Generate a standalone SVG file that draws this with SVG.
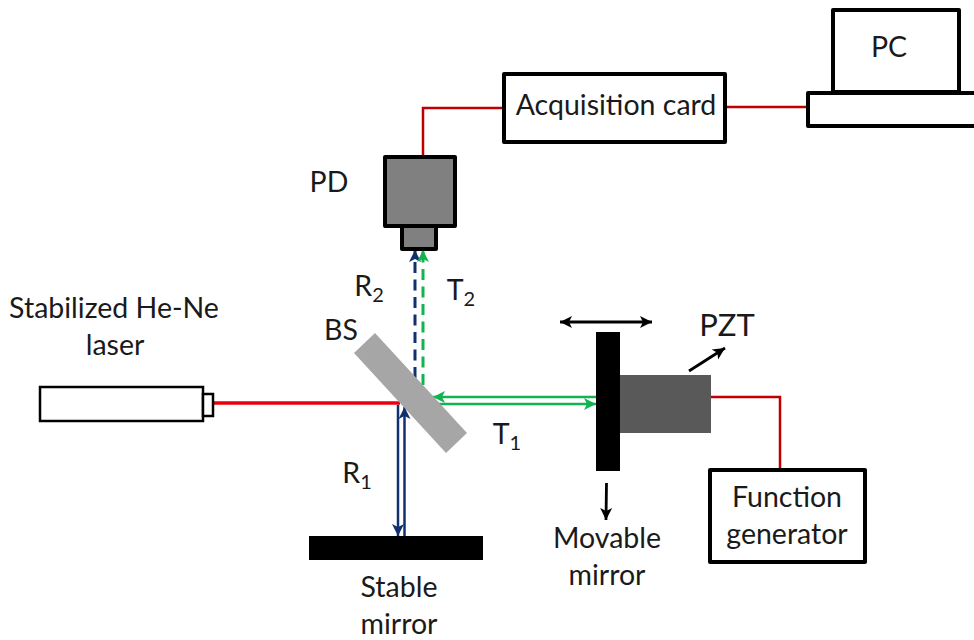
<svg xmlns="http://www.w3.org/2000/svg" width="974" height="640" viewBox="0 0 974 640">
<style>
text{font-family:"Lato","Open Sans","Liberation Sans",sans-serif;font-size:28.500px;fill:#1a1a1a;text-anchor:middle}
.sub{font-size:20px}
.box{fill:#fff;stroke:#000;stroke-width:4;stroke-linejoin:round}
.boxg{fill:#808080;stroke:#000;stroke-width:4;stroke-linejoin:round}
.thin{fill:#fff;stroke:#000;stroke-width:2.500}
.wire{fill:none;stroke:#c00000;stroke-width:2.500}
.beam{fill:none;stroke:#e8000f;stroke-width:3.500}
.blue{fill:none;stroke:#13306e;stroke-width:2.500}
.green{fill:none;stroke:#12b350;stroke-width:2.500}
.bd{stroke-width:3;stroke-dasharray:11 6.500}
.blk{fill:none;stroke:#000;stroke-width:2.800}
</style>
<defs>
<marker id="ab" markerUnits="userSpaceOnUse" markerWidth="14" markerHeight="14" refX="12" refY="7" orient="auto-start-reverse"><path d="M0 1L12 7L0 13L3 7Z" fill="#13306e"/></marker>
<marker id="ag" markerUnits="userSpaceOnUse" markerWidth="14" markerHeight="14" refX="12" refY="7" orient="auto-start-reverse"><path d="M0 1L12 7L0 13L3 7Z" fill="#12b350"/></marker>
<marker id="ak" markerUnits="userSpaceOnUse" markerWidth="14" markerHeight="14" refX="12" refY="7" orient="auto-start-reverse"><path d="M0 1L12 7L0 13L3 7Z" fill="#000"/></marker>
</defs>
<rect width="974" height="640" fill="#fff"/>
<g id="connectors">
<path class="wire" d="M423 156V108H503"/>
<path class="wire" d="M726 107H807"/>
<path class="wire" d="M711 397H780V468"/>
<path class="beam" d="M213 403H400"/>
<path class="blue bd" d="M415 378V250" marker-end="url(#ab)"/>
<path class="green bd" d="M423 385V250" marker-end="url(#ag)"/>
<path class="green" d="M596 397H433" marker-end="url(#ag)"/>
<path class="green" d="M437 404H596" marker-end="url(#ag)"/>
<path class="blue" d="M398 405V536" marker-end="url(#ab)"/>
<path class="blue" d="M404.500 536V407" marker-end="url(#ab)"/>
<path class="blk" d="M560 322H652" marker-start="url(#ak)" marker-end="url(#ak)"/>
<path class="blk" d="M689 371L725 348" marker-end="url(#ak)"/>
<path class="blk" d="M606.500 483L606 520" marker-end="url(#ak)"/>
</g>
<g id="laser"><rect class="thin" x="40" y="387" width="163" height="34"/><rect class="thin" x="203" y="394" width="10" height="22"/></g>
<g id="laser-label"><text x="114" y="318">Stabilized He-Ne</text><text x="115" y="355">laser</text></g>
<g id="bs"><polygon points="375,333 354,353 446,453 467,433" fill="#a6a6a6"/><text x="341" y="340">BS</text></g>
<g id="pd"><rect class="boxg" x="402" y="226" width="34" height="23"/><rect class="boxg" x="385" y="157" width="70" height="69"/><text x="329" y="192">PD</text></g>
<g id="acquisition-card"><rect class="box" x="504" y="74" width="221" height="68"/><text x="616" y="115">Acquisition card</text></g>
<g id="pc"><rect class="box" x="833" y="10" width="126" height="82"/><rect class="box" x="808" y="93" width="170" height="33"/><text x="889" y="57">PC</text></g>
<g id="movable-mirror"><rect x="596" y="332" width="24" height="139" fill="#000"/><text x="607" y="548">Movable</text><text x="607" y="585">mirror</text></g>
<g id="pzt"><rect x="620" y="375" width="91" height="58" fill="#595959"/><text x="727" y="336" style="font-size:31px">PZT</text></g>
<g id="function-generator"><rect class="box" x="710" y="470" width="155" height="92"/><text x="787" y="507">Function</text><text x="787" y="544">generator</text></g>
<g id="stable-mirror"><rect x="309" y="536" width="174" height="24" fill="#000"/><text x="399" y="597">Stable</text><text x="399" y="634">mirror</text></g>
<g id="labels">
<text x="369" y="296">R<tspan class="sub" dy="6">2</tspan></text>
<text x="461" y="300">T<tspan class="sub" dy="6">2</tspan></text>
<text x="357" y="483">R<tspan class="sub" dy="6">1</tspan></text>
<text x="507" y="444">T<tspan class="sub" dy="6">1</tspan></text>
</g>
</svg>
